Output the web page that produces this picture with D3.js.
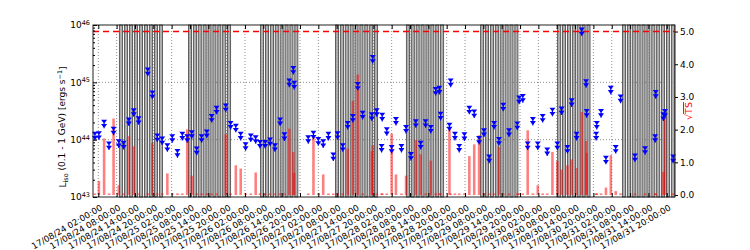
<!DOCTYPE html>
<html>
<head>
<meta charset="utf-8">
<script src="https://cdn.jsdelivr.net/npm/d3@7"></script>
<style>
body { margin: 0; background: #fff; }
text { font-family: "DejaVu Sans", sans-serif; }
</style>
</head>
<body>
<svg width="750" height="250"></svg>
<script>
// bin centres, hours after 2017-08-24 00:00
var binHours = [0.9, 2.2, 3.9, 5.5, 7.0, 8.7, 10.3, 12.0, 13.6, 15.2,
  18.2, 19.7, 21.3, 22.9, 24.6, 26.2, 27.9, 29.5, 31.1, 32.6,
  34.2, 35.8, 37.5, 39.1, 40.7, 43.7, 45.3, 47.0, 48.6, 50.2,
  51.9, 53.5, 54.9, 56.6, 58.2, 59.8, 61.5, 62.9, 64.5, 65.8,
  66.1, 70.7, 72.4, 74.0, 75.6, 77.3, 78.9, 80.3, 82.0, 83.6,
  85.3, 86.9, 88.5, 91.5, 91.8, 93.1, 94.7, 94.9, 96.4, 98.0,
  99.4, 101.2, 102.7, 104.3, 105.9, 107.5, 109.1, 110.8, 112.4, 113.6,
  114.0, 116.9, 117.3, 118.7, 120.1, 121.8, 123.4, 125.0, 126.6, 128.2,
  129.9, 131.5, 133.1, 134.5, 136.4, 139.1, 139.7, 140.9, 142.5, 144.2,
  145.8, 147.4, 148.9, 150.6, 152.2, 153.6, 155.5, 156.9, 158.5, 160.2,
  161.6, 161.8, 164.9, 165.1, 166.5, 168.1, 169.7, 171.3, 172.9, 177.6,
  180.9, 184.2, 184.4, 186.9, 187.4, 190.1];

// upper limits, erg/s
var ulLum = [1.12e44, 1.15e44, 1.82e44, 7.6e43, 1.38e44, 8.3e43, 7.8e43, 2.0e44, 2.9e44, 2.1e44,
  1.48e45, 5.9e44, 1.05e44, 9.3e43, 7.1e43, 1.02e44, 5.6e43, 1.12e44, 1.02e44, 1.2e44,
  6.2e43, 1.02e44, 1.23e44, 2.3e44, 3.2e44, 3.5e44, 1.74e44, 1.55e44, 1.12e44, 7.4e43,
  1.05e44, 9.8e43, 8.1e43, 8.1e43, 8.9e43, 7.1e43, 2.0e44, 1.1e44, 9.5e44, 1.58e45,
  8.7e44, 9.8e43, 1.17e44, 9.1e43, 8.3e43, 1.12e44, 4.9e43, 1.15e44, 7.1e43, 1.74e44,
  2.3e44, 8.3e44, 2.6e44, 2.45e44, 2.45e45, 2.9e44, 6.9e43, 2.4e44, 1.35e44, 6.6e43,
  2.04e44, 6.9e43, 1.48e44, 5.0e43, 1.86e44, 7.8e43, 1.86e44, 1.48e44, 6.8e44, 7.1e44,
  2.5e44, 1.62e44, 9.5e44, 1.12e44, 6.9e43, 1.1e44, 3.2e44, 2.75e44, 9.5e43, 1.29e44,
  4.5e43, 1.74e44, 9.1e43, 3.6e44, 1.29e44, 1.7e44, 4.8e44, 5.1e44, 7.6e43, 2.04e44,
  7.6e43, 2.3e44, 6.0e43, 2.95e44, 7.6e43, 3.1e44, 6.6e43, 4.3e44, 1.12e44, 7.4e45,
  9.3e44, 2.8e44, 1.12e44, 1.74e44, 2.8e44, 4.3e43, 7.1e44, 6.6e43, 5.0e44, 4.7e43,
  6.3e43, 1.02e44, 6.0e44, 2.45e44, 2.8e44, 4.5e43];

var sqrtTS = [0.05, 0.43, 1.73, 0.05, 2.34, 0.30, 0.05, 1.80, 1.49, 0.05,
  0.05, 1.59, 0.05, 0.05, 0.66, 0.05, 0.05, 0.05, 2.01, 0.59,
  0.05, 0.05, 0.05, 0.05, 0.05, 1.86, 0.05, 0.91, 0.81, 0.05,
  0.05, 0.69, 0.05, 0.05, 0.05, 0.05, 0.05, 0.05, 2.03, 1.32,
  0.68, 0.05, 1.78, 0.05, 0.63, 0.05, 0.05, 0.05, 0.05, 1.42,
  2.88, 3.68, 0.05, 1.34, 1.52, 0.05, 0.05, 0.05, 0.05, 1.88,
  0.63, 0.05, 0.59, 0.05, 1.68, 1.25, 0.05, 1.05, 0.05, 0.05,
  0.05, 2.03, 0.05, 0.05, 0.05, 0.05, 1.19, 1.55, 1.83, 0.05,
  0.05, 0.05, 1.47, 0.05, 0.05, 0.05, 0.05, 0.05, 1.98, 0.05,
  0.30, 0.05, 0.05, 1.32, 1.04, 0.78, 0.91, 1.09, 0.83, 2.54,
  1.65, 1.29, 0.05, 0.05, 0.05, 0.23, 1.22, 0.12, 0.05, 0.05,
  0.05, 0.05, 0.05, 0.71, 2.36, 0.05];

// excluded intervals (centres, hours after 2017-08-24 00:00)
var gapHours = [9.4, 11.1, 12.7, 14.3, 16.0, 17.6, 19.2, 20.9, 22.5,
  32.0, 33.6, 35.2, 36.8, 38.4, 40.0, 41.6, 43.2, 44.8,
  55.6, 57.2, 58.8, 60.4, 62.0, 63.6, 65.2, 66.8,
  80.1, 81.7, 83.3, 84.9, 86.5, 88.1, 89.7, 91.3, 92.9,
  103.3, 104.9, 106.5, 108.1, 109.7, 111.3, 112.9, 114.5,
  127.6, 129.2, 130.8, 132.4, 134.0, 135.6, 137.2, 138.8,
  152.8, 154.4, 156.0, 157.6, 159.2, 160.8, 162.4,
  174.0, 175.6, 177.2, 178.8, 180.4, 182.0, 183.6, 185.2, 186.8, 188.4, 190.0];

var tsThreshold = 5;
var lumTicks = [1e43, 1e44, 1e45, 1e46];
var tsTicks = [0, 1, 2, 3, 4, 5];

var svg = d3.select("svg");
var pLeft = 93, pRight = 675, pTop = 25, pBottom = 197;

var t0 = new Date(2017, 7, 24, 0, 0, 0);
function toDate(h) { return new Date(t0.getTime() + h * 3600e3); }

var x = d3.scaleTime().domain([toDate(0.27), toDate(190.7)]).range([pLeft, pRight]);
var yL = d3.scaleLog().domain([1e43, 1e46]).range([pBottom, pTop]);
var yR = d3.scaleLinear().domain([-0.06, 5.2]).range([pBottom, pTop]);

var tickDates = d3.range(2, 189, 6).map(toDate);

var bins = binHours.map(function(h, i) {
  return {t: toDate(h), h: h, ul: ulLum[i], ts: sqrtTS[i]};
});

// grid
var grid = svg.append("g").attr("stroke", "#000").attr("stroke-dasharray", "1,2")
  .attr("stroke-opacity", 0.55).attr("stroke-width", 0.8);
grid.selectAll("line.v").data(tickDates).enter().append("line")
  .attr("x1", function(d) { return x(d); }).attr("x2", function(d) { return x(d); })
  .attr("y1", pTop).attr("y2", pBottom);
grid.selectAll("line.h").data([1e44, 1e45]).enter().append("line")
  .attr("x1", pLeft).attr("x2", pRight)
  .attr("y1", function(d) { return yL(d); }).attr("y2", function(d) { return yL(d); });

// excluded intervals
svg.append("g").selectAll("rect").data(gapHours).enter().append("rect")
  .attr("x", function(d) { return x(toDate(d - 0.5)); })
  .attr("width", function(d) { return x(toDate(d + 0.5)) - x(toDate(d - 0.5)); })
  .attr("y", pTop).attr("height", pBottom - pTop)
  .attr("fill", "#9a9a9a").attr("fill-opacity", 0.8)
  .attr("stroke", "#444").attr("stroke-width", 0.8);

// sqrt(TS) bars
svg.append("g").selectAll("rect").data(bins).enter().append("rect")
  .attr("x", function(d) { return x(toDate(d.h - 0.42)); })
  .attr("width", function(d) { return x(toDate(d.h + 0.42)) - x(toDate(d.h - 0.42)); })
  .attr("y", function(d) { return yR(d.ts); })
  .attr("height", function(d) { return yR(0) - yR(d.ts); })
  .attr("fill", "red").attr("fill-opacity", 0.5);

// TS = 25 line
svg.append("line")
  .attr("x1", pLeft).attr("x2", pRight)
  .attr("y1", yR(tsThreshold)).attr("y2", yR(tsThreshold))
  .attr("stroke", "#f00").attr("stroke-width", 1.4).attr("stroke-dasharray", "6,4");

// upper limit markers
var ulPath = "M-3,-5L3,-5L0,-1ZM-3,-0.8L3,-0.8L0,3.6ZM-0.6,-5L0.6,-5L0.6,3.6L-0.6,3.6Z";
svg.append("g").selectAll("path").data(bins).enter().append("path")
  .attr("d", ulPath)
  .attr("transform", function(d) { return "translate(" + x(d.t) + "," + yL(d.ul) + ")"; })
  .attr("fill", "#0000ff");

// frame
svg.append("rect").attr("x", pLeft).attr("y", pTop)
  .attr("width", pRight - pLeft).attr("height", pBottom - pTop)
  .attr("fill", "none").attr("stroke", "#222").attr("stroke-width", 1);

// left axis
var gL = svg.append("g").attr("transform", "translate(" + pLeft + ",0)")
  .call(d3.axisLeft(yL).tickValues(lumTicks).tickSizeInner(-4).tickSizeOuter(0).tickPadding(3)
    .tickFormat(function() { return ""; }));
gL.select(".domain").remove();
gL.attr("font-family", "DejaVu Sans").attr("font-size", 9);
gL.selectAll(".tick text").each(function(d) {
  var t = d3.select(this).attr("fill", "#000");
  t.append("tspan").text("10");
  t.append("tspan").attr("dy", "-0.5em").attr("font-size", "6.5px").text(Math.round(Math.log10(d)));
});
var minor = [];
[1e43, 1e44, 1e45].forEach(function(p) { for (var k = 2; k < 10; k++) minor.push(k * p); });
var gLm = svg.append("g").attr("transform", "translate(" + pLeft + ",0)")
  .call(d3.axisLeft(yL).tickValues(minor).tickSizeInner(-2).tickSizeOuter(0).tickFormat(""));
gLm.select(".domain").remove();

// bottom / top axes
var gB = svg.append("g").attr("transform", "translate(0," + pBottom + ")")
  .call(d3.axisBottom(x).tickValues(tickDates).tickSizeInner(-4).tickSizeOuter(0)
    .tickFormat(d3.timeFormat("%y/%m/%d %H:%M:%S")));
gB.select(".domain").remove();
gB.attr("font-family", "DejaVu Sans").attr("font-size", 8.6);
gB.selectAll(".tick text")
  .attr("x", 0).attr("y", 0).attr("dy", "0.75em")
  .attr("text-anchor", "end").attr("fill", "#000")
  .attr("transform", "translate(1,7) rotate(-30)");
var gT = svg.append("g").attr("transform", "translate(0," + pTop + ")")
  .call(d3.axisTop(x).tickValues(tickDates).tickSizeInner(-4).tickSizeOuter(0).tickFormat(""));
gT.select(".domain").remove();

// right axis
var gR = svg.append("g").attr("transform", "translate(" + pRight + ",0)")
  .call(d3.axisRight(yR).tickValues(tsTicks).tickSizeInner(3).tickSizeOuter(0).tickPadding(2));
gR.select(".domain").remove();
gR.attr("font-family", "DejaVu Sans").attr("font-size", 9);
gR.selectAll(".tick text").attr("fill", "#000");

// axis titles
var yl = svg.append("text")
  .attr("transform", "translate(66,127) rotate(-90)")
  .attr("text-anchor", "middle").attr("font-size", 9).attr("fill", "#000");
yl.append("tspan").text("L");
yl.append("tspan").attr("font-size", "6.5px").attr("dy", "0.35em").text("iso");
yl.append("tspan").attr("dy", "-0.35em").text(" (0.1 - 1 GeV) [ergs s");
yl.append("tspan").attr("font-size", "6.5px").attr("dy", "-0.5em").text("\u22121");
yl.append("tspan").attr("dy", "0.5em").text("]");

var yr = svg.append("text")
  .attr("transform", "translate(692," + ((pTop + pBottom) / 2) + ") rotate(-90)")
  .attr("text-anchor", "middle").attr("font-size", 9.5).attr("fill", "red");
yr.append("tspan").text("\u221a");
yr.append("tspan").attr("text-decoration", "overline").text("TS");
</script>
</body>
</html>
